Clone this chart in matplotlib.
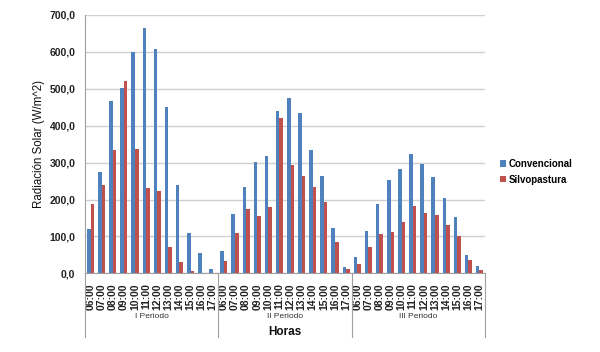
import numpy as np
import matplotlib
matplotlib.use("Agg")
import matplotlib.pyplot as plt
from matplotlib.transforms import blended_transform_factory

plt.rcParams['font.family'] = ['Liberation Sans', 'DejaVu Sans']

hours = ["06:00", "07:00", "08:00", "09:00", "10:00", "11:00",
         "12:00", "13:00", "14:00", "15:00", "16:00", "17:00"]
periods = ["I Periodo", "II Periodo", "III Periodo"]

convencional = [
    120, 274, 466, 502, 600, 665, 608, 450, 239, 108, 56, 11,
    60, 160, 235, 301, 319, 439, 475, 435, 334, 264, 122, 18,
    44, 114, 187, 253, 283, 323, 296, 262, 205, 153, 50, 21,
]
silvopastura = [
    188, 240, 334, 520, 338, 230, 224, 71, 31, 5, 1, 0,
    32, 109, 174, 156, 181, 420, 293, 264, 234, 192, 84, 12,
    25, 72, 106, 112, 138, 183, 164, 158, 131, 100, 36, 8,
]
series_names = ["Convencional", "Silvopastura"]
colors = ["#4F81BD", "#C0504D"]
yticks = [0, 100, 200, 300, 400, 500, 600, 700]

fig = plt.figure(figsize=(6.0, 3.52), dpi=100)
ax = fig.add_axes([85/600, 1-273.3/352, 400/600, (273.3-15)/352])

n = len(convencional)
x = np.arange(n)
w = 0.32
ax.bar(x - w/2, convencional, width=w, color=colors[0], label=series_names[0], zorder=3)
ax.bar(x + w/2, silvopastura, width=w, color=colors[1], label=series_names[1], zorder=3)

ax.set_xlim(-0.5, n - 0.5)
ax.set_ylim(0, 700)
ax.set_yticks(yticks)
ax.set_yticklabels([f"{v:.1f}".replace('.', ',') for v in yticks],
                   fontsize=7.5, fontweight='bold', color='#222222')
ax.yaxis.grid(True, color='#D0D0D0', linewidth=1.0, zorder=0)
ax.tick_params(axis='y', length=0, pad=7)

ax.set_xticks(x)
ax.set_xticklabels(hours * len(periods), rotation=90, fontsize=7.5,
                   fontweight='bold', color='#222222')
ax.tick_params(axis='x', length=0, pad=7)

for s in ['top', 'right']:
    ax.spines[s].set_visible(False)
ax.spines['left'].set_color('#A0A0A0')
ax.spines['bottom'].set_color('#A0A0A0')
ax.spines['left'].set_linewidth(0.8)
ax.spines['bottom'].set_linewidth(0.8)

trans = blended_transform_factory(ax.transData, ax.transAxes)
axh = 273.3 - 15
y_sep = -(337 - 273.3) / axh
for b in [-0.5, 11.5, 23.5, 35.5]:
    ax.plot([b, b], [0, y_sep], transform=trans, color='#A0A0A0',
            linewidth=0.8, clip_on=False)
y_per = -(317 - 273.3) / axh
for i, p in enumerate(periods):
    ax.text(i * 12 + 5.5, y_per, p, transform=trans, ha='center', va='center',
            fontsize=6, color='#333333')
ax.text(0.5, -(332 - 273.3) / axh, "Horas", transform=ax.transAxes,
        ha='center', va='center', fontsize=8.5, fontweight='bold', color='#111111')

fig.text(39/600, 1 - 144/352, "Radiación Solar (W/m^2)", rotation=90,
         ha='center', va='center', fontsize=8.3, color='#111111')

leg = fig.legend(loc='upper left', bbox_to_anchor=(495/600, 1 - 154/352),
                 frameon=False, fontsize=7, handlelength=0.6, handleheight=0.6,
                 handletextpad=0.3, labelspacing=0.6, borderpad=0)
for t in leg.get_texts():
    t.set_fontweight('bold')

fig.savefig("out.png", dpi=100)
